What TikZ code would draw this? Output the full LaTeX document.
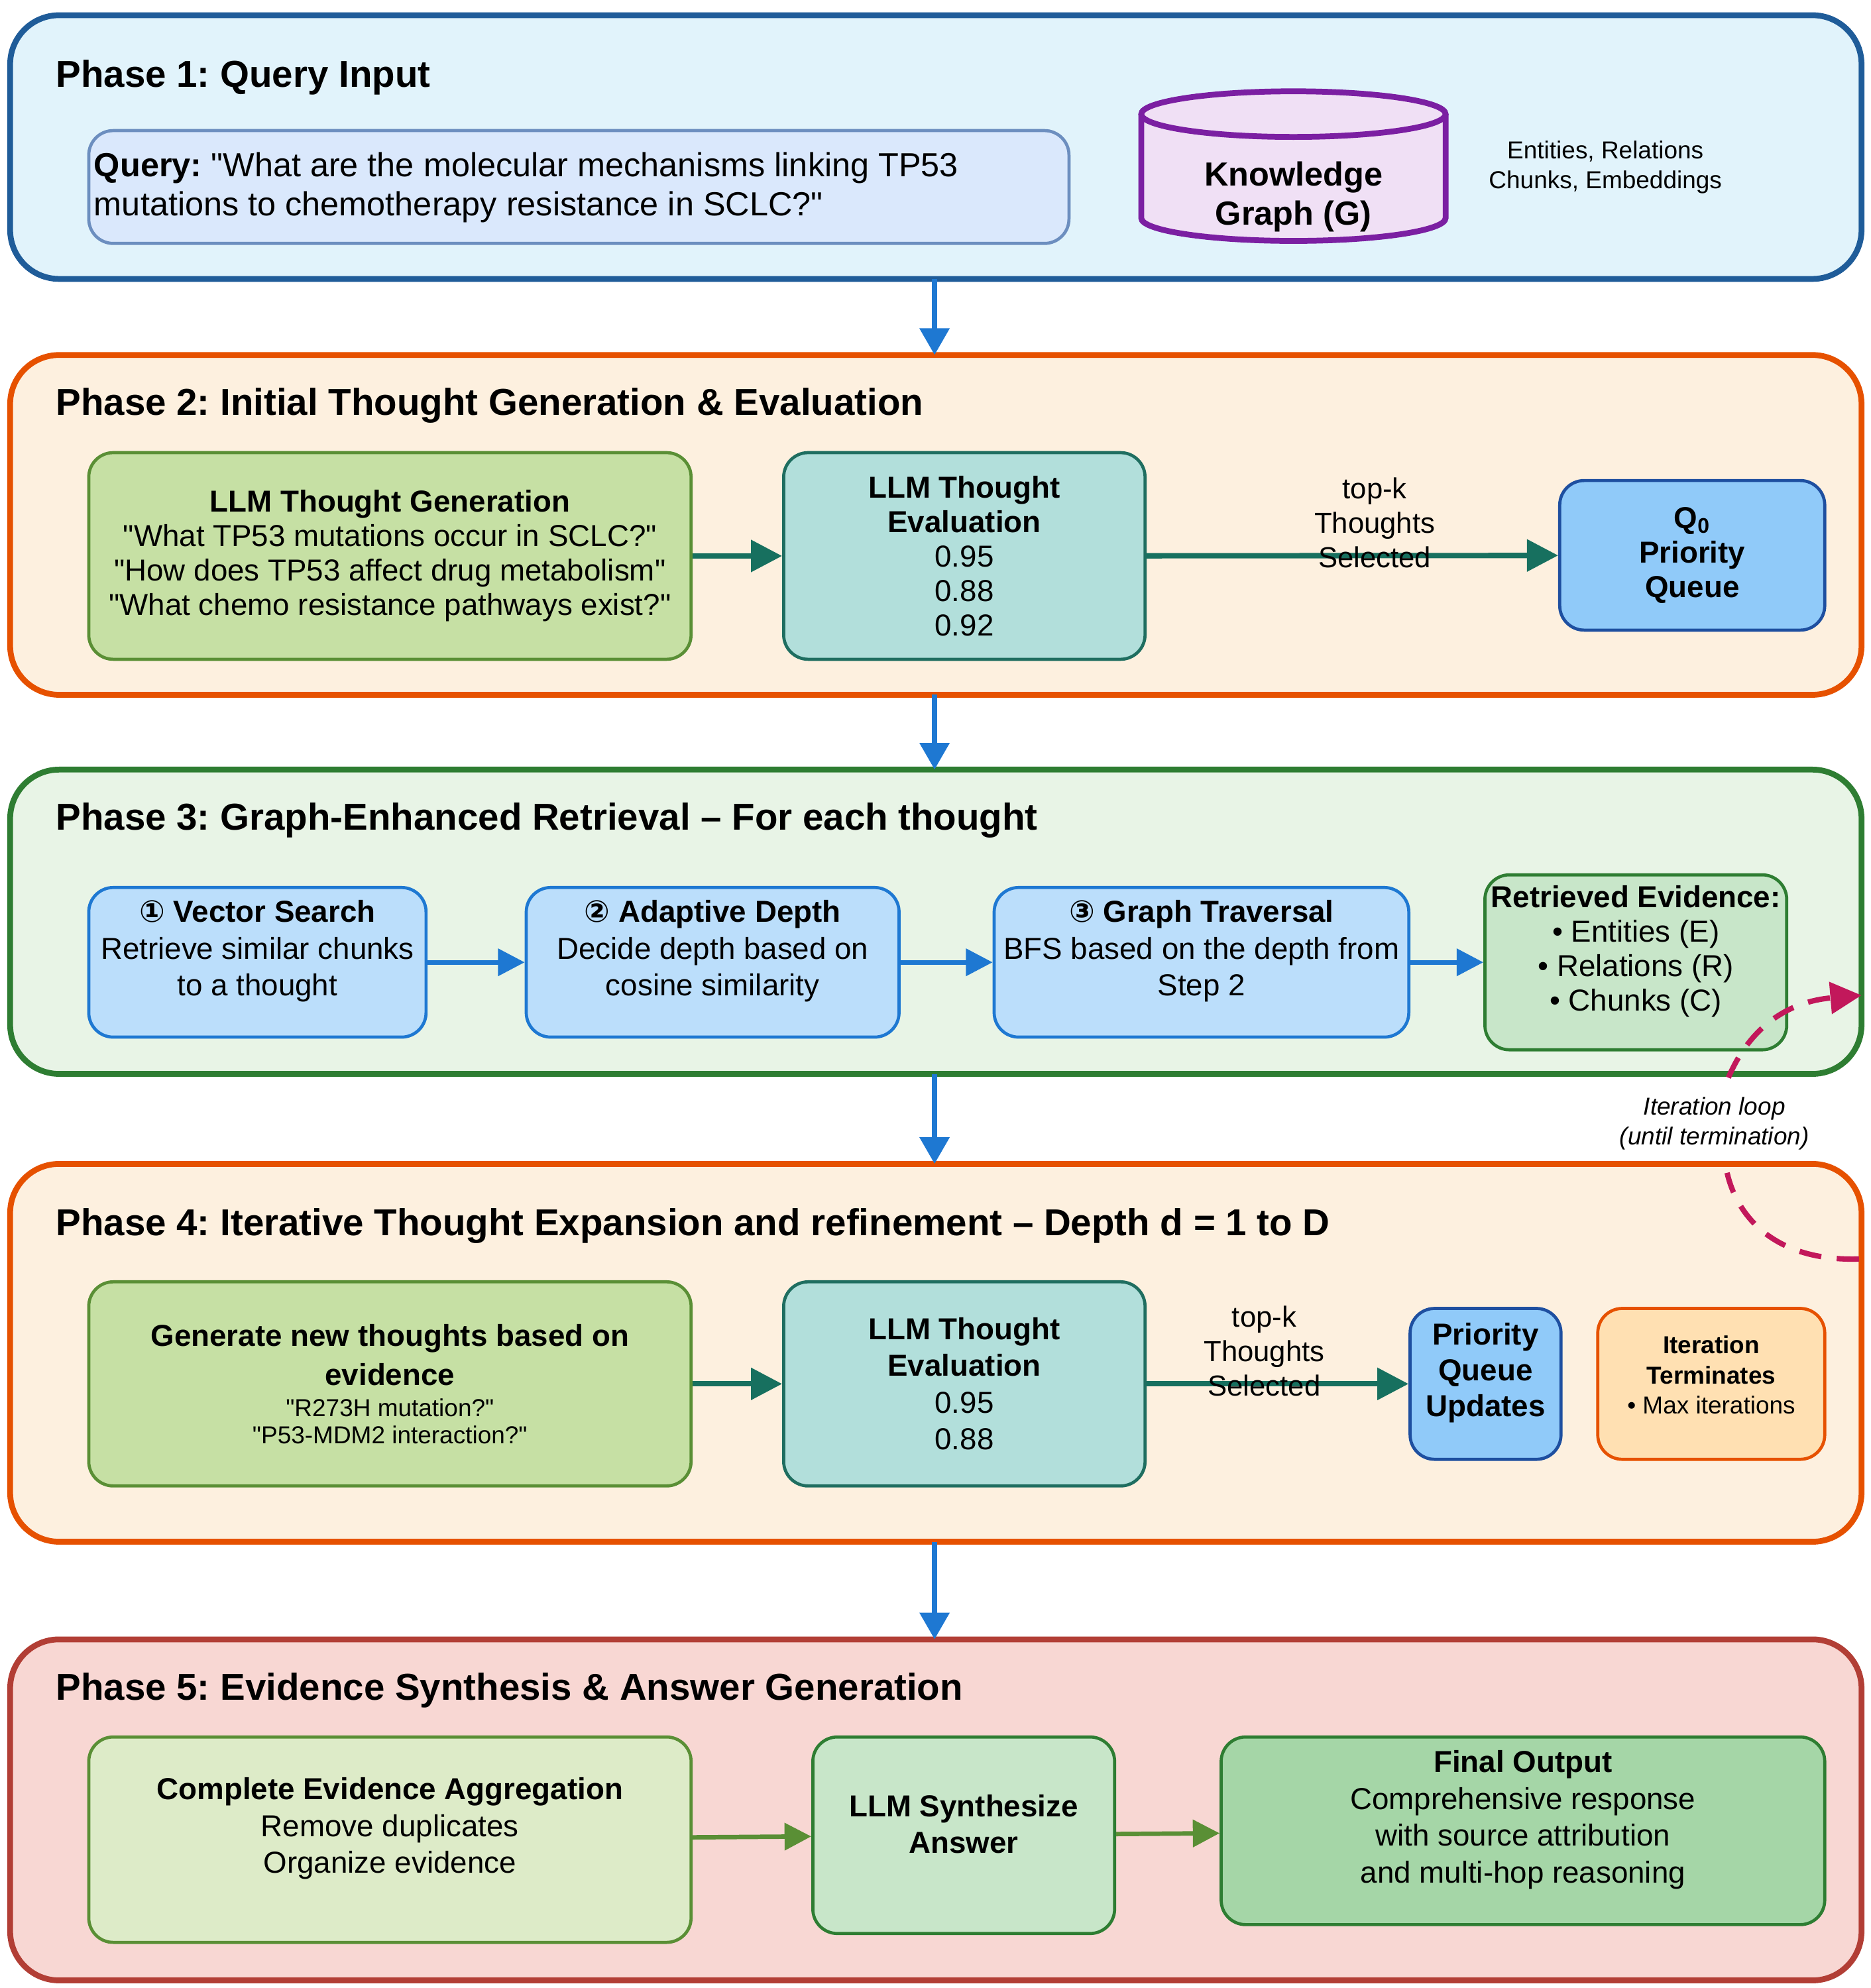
\documentclass[tikz,border=0pt]{standalone}
\usepackage{fontspec}
\setmainfont{Liberation Sans}[Ligatures=TeXOff]
\newfontfamily\dvs{DejaVu Sans}
\usetikzlibrary{fit,arrows.meta,positioning}
\definecolor{p1f}{HTML}{E1F3FB}\definecolor{p1d}{HTML}{1F5C99}
\definecolor{p2f}{HTML}{FDF0DF}\definecolor{p2d}{HTML}{E65100}
\definecolor{p3f}{HTML}{E8F4E6}\definecolor{p3d}{HTML}{2E7D32}
\definecolor{p5f}{HTML}{F8D7D3}\definecolor{p5d}{HTML}{B23E35}
\definecolor{qf}{HTML}{DAE8FC}\definecolor{qd}{HTML}{6C8EBF}
\definecolor{kgf}{HTML}{F0E0F5}\definecolor{kgd}{HTML}{7B1FA2}
\definecolor{lgf}{HTML}{C6E0A4}\definecolor{lgd}{HTML}{5A8F35}
\definecolor{tef}{HTML}{B2DFDB}\definecolor{ted}{HTML}{1F6E60}
\definecolor{qqf}{HTML}{90CAF9}\definecolor{qqd}{HTML}{1E4FA0}
\definecolor{bf}{HTML}{BBDEFB}\definecolor{bd}{HTML}{1E78D2}
\definecolor{gf}{HTML}{C8E6C9}
\definecolor{orf}{HTML}{FFE0B2}
\definecolor{agf}{HTML}{DDEBC8}\definecolor{fof}{HTML}{A5D6A7}
\definecolor{mag}{HTML}{C2185B}\definecolor{tealar}{HTML}{17705F}
\tikzset{
 x=0.02cm,y=-0.02cm,
 phase/.style={draw=#1,line width=2.6pt,rounded corners=22pt,inner sep=0pt},
 box/.style={draw=#1,line width=1.4pt,rounded corners=11pt,inner sep=0pt,align=center,font=\fontsize{13.6}{16.5}\selectfont},
 ttl/.style={anchor=west,font=\fontsize{16.8}{19}\selectfont\bfseries},
 parr/.style={-{Triangle[length=12pt,width=13pt]},line width=2.4pt,draw=bd},
 tarr/.style={-{Triangle[length=14pt,width=14pt]},line width=2.4pt,draw=tealar},
 barr/.style={-{Triangle[length=12pt,width=12pt]},line width=2pt,draw=bd},
 garr/.style={-{Triangle[length=12pt,width=12pt]},line width=2pt,draw=lgd},
 tk/.style={above,align=center,font=\fontsize{13}{15.5}\selectfont,yshift=-10pt},
}
\frenchspacing
\begin{document}
\begin{tikzpicture}
\useasboundingbox (0,0) rectangle (1475,1568);
% phases
\node[phase=p1d,fill=p1f,fit={(8,12)(1468,220)}] (P1) {};
\node[phase=p2d,fill=p2f,fit={(8,280)(1468,548)}] (P2) {};
\node[phase=p3d,fill=p3f,fit={(8,607)(1468,847)}] (P3) {};
\node[phase=p2d,fill=p2f,fit={(8,918)(1468,1216)}] (P4) {};
\node[phase=p5d,fill=p5f,fit={(8,1293)(1468,1562)}] (P5) {};
\node[ttl] (t1) at (38,61) {Phase 1: Query Input};
\node[ttl] (t2) at (38,320) {Phase 2: Initial Thought Generation \& Evaluation};
\node[ttl] (t3) at (38,647) {Phase 3: Graph-Enhanced Retrieval – For each thought};
\node[ttl] (t4) at (38,967) {Phase 4: Iterative Thought Expansion and refinement – Depth d = 1 to D};
\node[ttl] (t5) at (38,1333) {Phase 5: Evidence Synthesis \& Answer Generation};
\draw[parr] (737,220) -- (737,280);
\draw[parr] (737,548) -- (737,607);
\draw[parr] (737,847) -- (737,918);
\draw[parr] (737,1216) -- (737,1293);
% phase 1
\node[box=qd,fill=qf,fit={(70,103)(843,192)}] (q) {};
\node[anchor=west,align=left,font=\fontsize{15}{17.5}\selectfont] (qt) at (68,148) {\textbf{Query:} "What are the molecular mechanisms linking TP53\\mutations to chemotherapy resistance in SCLC?"};
\coordinate (kg) at (1020,130);
\draw[draw=kgd,fill=kgf,line width=2.6pt] (900,90) -- (900,172) arc[start angle=180,end angle=0,x radius=120,y radius=18] -- (1140,90);
\draw[draw=kgd,fill=kgf,line width=2.6pt] (1020,90) ellipse[x radius=120,y radius=18];
\node[align=center,font=\fontsize{15}{17.5}\selectfont\bfseries] (kgt) at (1020,155) {Knowledge\\Graph (G)};
\node[align=center,font=\fontsize{11}{13.5}\selectfont] (kgs) at (1266,132) {Entities, Relations\\Chunks, Embeddings};
% phase 2
\node[box=lgd,fill=lgf,fit={(70,357)(545,520)}] (g2) {};
\node[align=center,font=\fontsize{13.6}{15.5}\selectfont] at (g2) {\textbf{LLM Thought Generation}\\"What TP53 mutations occur in SCLC?"\\"How does TP53 affect drug metabolism"\\"What chemo resistance pathways exist?"};
\node[box=ted,fill=tef,fit={(618,357)(903,520)}] (e2) {};
\node[align=center,font=\fontsize{13.6}{15.5}\selectfont] at (e2) {\textbf{LLM Thought}\\\textbf{Evaluation}\\0.95\\0.88\\0.92};
\node[box=qqd,fill=qqf,fit={(1230,379)(1439,497)}] (q0) {};
\node[align=center,font=\fontsize{13.6}{15.5}\selectfont\bfseries] at (q0) {Q\textsubscript{0}\\Priority\\Queue};
\draw[tarr] (g2) -- (e2);
\draw[tarr] (e2) -- node[tk,xshift=10pt]{top-k\\Thoughts\\Selected} (q0);
% phase 3
\node[box=bd,fill=bf,fit={(70,700)(336,818)}] (s1) {\textbf{{\dvs ①} Vector Search}\\Retrieve similar chunks\\to a thought};
\node[box=bd,fill=bf,fit={(415,700)(709,818)}] (s2) {\textbf{{\dvs ②} Adaptive Depth}\\Decide depth based on\\cosine similarity};
\node[box=bd,fill=bf,fit={(784,700)(1111,818)}] (s3) {\textbf{{\dvs ③} Graph Traversal}\\BFS based on the depth from\\Step 2};
\node[box=p3d,fill=gf,fit={(1171,690)(1409,828)},font=\fontsize{13.6}{15.5}\selectfont] (ev) {\textbf{Retrieved Evidence:}\\• Entities (E)\\• Relations (R)\\• Chunks (C)};
\draw[barr] (s1) -- (s2);
\draw[barr] (s2) -- (s3);
\draw[barr] (s3) -- (ev);
% loop
\coordinate (ls) at (1466,993);
\coordinate (le) at (1468,785);
\draw[mag,line width=2.4pt,dash pattern=on 10pt off 7pt] (ls) .. controls (1400,995) and (1370,960) .. (1362,925);
\draw[mag,line width=2.4pt,dash pattern=on 10pt off 7pt,-{Triangle[length=14pt,width=14pt]}] (1363,850) .. controls (1380,810) and (1410,790) .. (le);
\node[align=center,font=\fontsize{11}{13.5}\selectfont\itshape] (lt) at (1352,886) {Iteration loop\\(until termination)};
% phase 4
\node[box=lgd,fill=lgf,fit={(70,1011)(545,1172)}] (g4) {};
\node[align=center] at (g4) {\fontsize{13.6}{16}\selectfont\textbf{Generate new thoughts based on}\\[4pt]\fontsize{13.6}{16}\selectfont\textbf{evidence}\\[2pt]\fontsize{11}{13.5}\selectfont"R273H mutation?"\\\fontsize{11}{13.5}\selectfont"P53-MDM2 interaction?"};
\node[box=ted,fill=tef,fit={(618,1011)(903,1172)}] (e4) {};
\node[align=center,font=\fontsize{13.6}{16.5}\selectfont] at (e4) {\textbf{LLM Thought}\\\textbf{Evaluation}\\0.95\\0.88};
\node[box=qqd,fill=qqf,fit={(1112,1032)(1231,1151)},font=\fontsize{13.6}{16}\selectfont\bfseries] (pq) {Priority\\Queue\\Updates};
\node[box=p2d,fill=orf,fit={(1260,1032)(1439,1151)},font=\fontsize{11}{13.5}\selectfont] (it) {\textbf{Iteration}\\\textbf{Terminates}\\• Max iterations};
\draw[tarr] (g4) -- (e4);
\draw[tarr] (e4) -- node[tk,xshift=-6pt]{top-k\\Thoughts\\Selected} (pq);
% phase 5
\node[box=lgd,fill=agf,fit={(70,1370)(545,1532)}] (ag) {\textbf{Complete Evidence Aggregation}\\Remove duplicates\\Organize evidence};
\node[box=p3d,fill=gf,fit={(641,1370)(879,1525)},font=\fontsize{13.6}{16.5}\selectfont\bfseries] (sy) {LLM Synthesize\\Answer};
\node[box=p3d,fill=fof,fit={(963,1370)(1439,1518)}] (fo) {\textbf{Final Output}\\Comprehensive response\\with source attribution\\and multi-hop reasoning};
\draw[garr] (ag) -- (sy);
\draw[garr] (sy) -- (fo);
\end{tikzpicture}
\end{document}
